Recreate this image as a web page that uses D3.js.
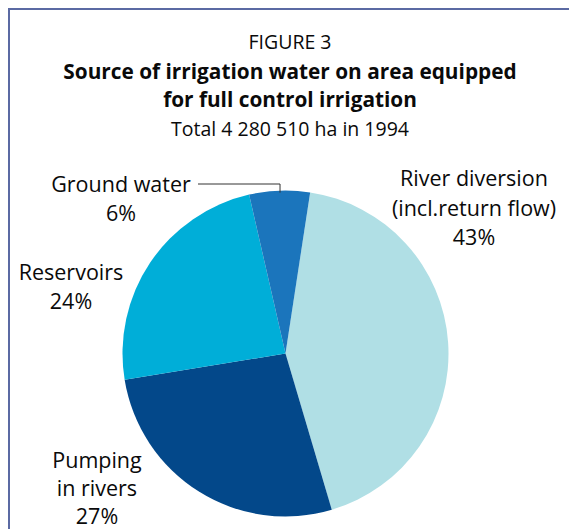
<!DOCTYPE html>
<html>
<head>
<meta charset="utf-8">
<script src="https://cdn.jsdelivr.net/npm/d3@7"></script>
<style>
  html, body { margin: 0; padding: 0; background: #fff; }
  svg { display: block; }
  text { font-family: "Open Sans", "Noto Sans", sans-serif; fill: #0a0a0a; }
</style>
</head>
<body>
<svg id="chart" width="569" height="529"></svg>
<script>
// Sources of irrigation water, share of area equipped (%)
const sources = ["River diversion", "Pumping in rivers", "Reservoirs", "Ground water"];
const shares = [43, 27, 24, 6];
const colors = ["#b0dfe5", "#03488a", "#00aed8", "#1b75bc"];
// Label lines for each slice
const labelLines = [
  ["River diversion", "(incl.return flow)", "43%"],
  ["Pumping", "in rivers", "27%"],
  ["Reservoirs", "24%"],
  ["Ground water", "6%"]
];
const titleLines = ["Source of irrigation water on area equipped", "for full control irrigation"];
const figureLabel = "FIGURE 3";
const subtitle = "Total 4 280 510 ha in 1994";

const svg = d3.select("#chart");

// frame
svg.append("path")
  .attr("d", "M9,540 L9,9 L580,9")
  .attr("fill", "none")
  .attr("stroke", "#5b6aa3")
  .attr("stroke-width", 2);

const cx = 290;
svg.append("text").attr("x", cx).attr("y", 49)
  .attr("text-anchor", "middle").style("font-size", "19.5px").text(figureLabel);
svg.selectAll("text.title").data(titleLines).join("text")
  .attr("class", "title")
  .attr("x", cx).attr("y", (d, i) => 79 + i * 28)
  .attr("text-anchor", "middle")
  .style("font-size", "20.8px").style("font-weight", "bold")
  .text(d => d);
svg.append("text").attr("x", cx).attr("y", 136)
  .attr("text-anchor", "middle").style("font-size", "19.5px").text(subtitle);

// pie
const pcx = 285.5, pcy = 353.5, R = 163;
const startDeg = 8.7;
const pie = d3.pie().sort(null)
  .startAngle(startDeg * Math.PI / 180)
  .endAngle((startDeg + 360) * Math.PI / 180)
  .value(d => d);
const arcs = pie(shares);
const arc = d3.arc().innerRadius(0).outerRadius(R);

const g = svg.append("g").attr("transform", `translate(${pcx},${pcy})`);
g.selectAll("path").data(arcs).join("path")
  .attr("d", arc)
  .attr("fill", (d, i) => colors[i]);

// slice labels
const labelPos = [
  { x: 474, y: 186, h: 29.5 },
  { x: 97, y: 468, h: 28 },
  { x: 71, y: 280, h: 28.5 },
  { x: 121, y: 192, h: 28.5 }
];
labelLines.forEach((lines, i) => {
  const t = svg.append("text")
    .attr("text-anchor", "middle")
    .style("font-size", "21.5px");
  lines.forEach((s, j) => {
    t.append("tspan").attr("x", labelPos[i].x).attr("y", labelPos[i].y + j * labelPos[i].h).text(s);
  });
});

// leader line for the ground water slice
const gw = arcs[3];
const mid = (gw.startAngle + gw.endAngle) / 2;
const edgeX = pcx + Math.sin(mid) * R;
const edgeY = pcy - Math.cos(mid) * R;
svg.append("polyline")
  .attr("points", `198,184 ${edgeX + 0.5},184 ${edgeX + 0.5},${edgeY + 2}`)
  .attr("fill", "none")
  .attr("stroke", "#333")
  .attr("stroke-width", 1);
</script>
</body>
</html>
